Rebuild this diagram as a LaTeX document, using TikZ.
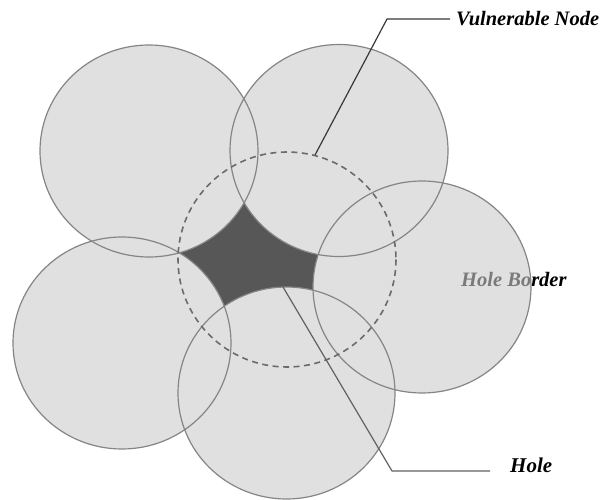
\documentclass[tikz,border=0pt]{standalone}
\usepackage{fontspec}
\setmainfont{Liberation Serif}
\usetikzlibrary{calc}
\begin{document}
\begin{tikzpicture}[x=1pt,y=-1pt,
  cfill/.style={fill=black!12},
  cline/.style={draw=black!48,line width=1.2pt},
  dline/.style={draw=black!58,line width=1.6pt,dash pattern=on 6pt off 4.5pt},
  holefill/.style={fill=black!66},
  leader/.style={draw=black!78,line width=1.2pt,line join=round},
  lbl/.style={inner sep=0pt,anchor=base west,font=\fontsize{20.5}{24}\selectfont\bfseries\itshape}
]
\useasboundingbox (0,0) rectangle (613,500);
% hole
\fill[holefill] (243,197.7) -- (323,254) -- (317.5,292.5) -- (221,310) -- (174.4,252.3) -- cycle;
% circle fills
\fill[cfill] (149,151) ellipse [x radius=109,y radius=106];
\fill[cfill] (339,150.5) ellipse [x radius=109,y radius=106];
\fill[cfill] (422,287) ellipse [x radius=109,y radius=106];
\fill[cfill] (122,343) ellipse [x radius=109,y radius=106];
\fill[cfill] (286.5,393) ellipse [x radius=108.5,y radius=106];
% hole border text partly under the right circle
\node[lbl] (hb) at (461,286) {Hole Border};
\fill[cfill,fill opacity=0.55] (422,287) ellipse [x radius=109,y radius=106];
% outlines
\draw[cline] (149,151) ellipse [x radius=109,y radius=106];
\draw[cline] (339,150.5) ellipse [x radius=109,y radius=106];
\draw[cline] (422,287) ellipse [x radius=109,y radius=106];
\draw[cline] (122,343) ellipse [x radius=109,y radius=106];
\draw[cline] (286.5,393) ellipse [x radius=108.5,y radius=106];
\draw[dline] (287,259.5) ellipse [x radius=109,y radius=107.5];
% labels
\node[lbl] (vn) at (456,26) {Vulnerable Node};
\node[lbl,font=\fontsize{21}{24}\selectfont\bfseries\itshape] (hl) at (510,472) {Hole};
\coordinate (vnstart) at (315,155);
\coordinate (vncorner) at (387,20);
\coordinate (hlstart) at (283,287);
\coordinate (hlcorner) at (392,471);
\draw[leader] (vnstart) -- (vncorner |- vn.west) -- ([xshift=-6pt]vn.west);
\draw[leader,draw=black!62] (hlstart) -- (hlcorner) -- ($(hl.base west)+(-20,-1)$);
\end{tikzpicture}
\end{document}
